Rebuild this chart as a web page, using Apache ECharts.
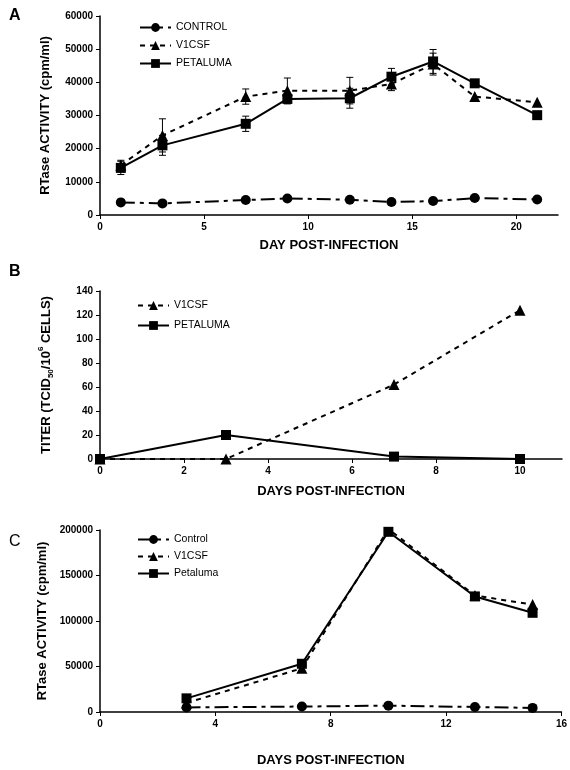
<!DOCTYPE html>
<html><head><meta charset="utf-8">
<script src="https://cdn.jsdelivr.net/npm/echarts@6/dist/echarts.min.js"></script>
<style>html,body{margin:0;padding:0;background:#fff}#c{width:570px;height:770px}</style>
</head><body><div id="c"></div>
<script>
// Panel A
const dayA = [1, 3, 7, 9, 12, 14, 16, 18, 21];
const controlA = [3800, 3500, 4500, 5000, 4600, 3900, 4200, 5100, 4700];
const v1csfA = [15000, 24000, 35700, 37500, 37500, 39500, 45500, 35700, 34000];
const petalumaA = [14200, 21000, 27500, 35000, 35200, 41700, 46300, 39700, 30100];
const v1csfErrA = [1500, 5000, 2300, 3800, 4000, 2000, 3300, 0, 0];
const petalumaErrA = [2000, 3000, 2300, 1500, 3000, 2500, 3600, 0, 0];
const xTicksA = [0, 5, 10, 15, 20];
// Panel B
const dayB = [0, 3, 7, 10];
const v1csfB = [0, 0, 62, 124];
const petalumaB = [0, 20, 2, 0];
const xTicksB = [0, 2, 4, 6, 8, 10];
// Panel C
const dayC = [3, 7, 10, 13, 15];
const controlC = [5000, 6000, 7000, 5500, 4500];
const v1csfC = [10000, 48000, 201000, 128000, 118000];
const petalumaC = [15000, 53000, 198000, 127000, 109000];
const xTicksC = [0, 4, 8, 12, 16];

const FONT = '"Liberation Sans", Arial, sans-serif';
const pairs = (xs, ys) => xs.map((x, i) => [x, ys[i]]);
const errData = (xs, ys, es) => xs.map((x, i) => [x, ys[i] - es[i], ys[i] + es[i], es[i]]).filter(d => d[3] > 0);

function errRender(params, api) {
  const x = api.value(0), lo = api.value(1), hi = api.value(2);
  const p1 = api.coord([x, lo]), p2 = api.coord([x, hi]);
  const w = 3.5;
  const st = { stroke: '#000', lineWidth: 1 };
  return { type: 'group', children: [
    { type: 'line', shape: { x1: p1[0], y1: p1[1], x2: p2[0], y2: p2[1] }, style: st },
    { type: 'line', shape: { x1: p1[0] - w, y1: p1[1], x2: p1[0] + w, y2: p1[1] }, style: st },
    { type: 'line', shape: { x1: p2[0] - w, y1: p2[1], x2: p2[0] + w, y2: p2[1] }, style: st }
  ]};
}

const axisCommon = {
  type: 'value',
  axisLine: { lineStyle: { color: '#000', width: 1.5 } },
  axisTick: { inside: false, length: 4, lineStyle: { color: '#000', width: 1 } },
  splitLine: { show: false },
  axisLabel: { color: '#000', fontSize: 10, fontWeight: 'bold', fontFamily: FONT, formatter: v => String(v) }
};
const nameStyle = { color: '#000', fontSize: 13, fontWeight: 'bold', fontFamily: FONT };

function xAx(idx, max, ticks, name, gap) {
  return Object.assign({}, axisCommon, {
    gridIndex: idx, min: 0, max: max,
    name: name, nameLocation: 'middle', nameGap: gap, nameTextStyle: nameStyle,
    axisLabel: Object.assign({}, axisCommon.axisLabel, { margin: 7, customValues: ticks }),
    axisTick: Object.assign({}, axisCommon.axisTick, { customValues: ticks })
  });
}
function yAx(idx, max, interval, name, gap, extraName) {
  return Object.assign({}, axisCommon, {
    gridIndex: idx, min: 0, max: max, interval: interval,
    name: name, nameLocation: 'middle', nameGap: gap, nameRotate: 90,
    nameTextStyle: Object.assign({}, nameStyle, extraName || {}),
    axisLabel: Object.assign({}, axisCommon.axisLabel, { margin: 7 })
  });
}

const ctrlLine = { color: '#000', width: 2, type: [14, 5, 4, 5] };
const v1Line = { color: '#000', width: 2, type: [5, 5] };
const petLine = { color: '#000', width: 2, type: 'solid' };

function lineSeries(name, data, gi, symbol, size, ls) {
  return { type: 'line', name: name, xAxisIndex: gi, yAxisIndex: gi, data: data,
    symbol: symbol, symbolSize: size, showSymbol: true,
    itemStyle: { color: '#000', borderWidth: 0 }, lineStyle: ls, z: 3, animation: false };
}
function errSeries(data, gi) {
  return { type: 'custom', xAxisIndex: gi, yAxisIndex: gi, data: data, renderItem: errRender,
    encode: { x: 0, y: [1, 2] }, z: 2, animation: false, silent: true };
}
function legend(names, left, top, gap) {
  return { data: names, orient: 'vertical', left: left, top: top, itemWidth: 31, itemHeight: 11,
    itemGap: gap, textStyle: { color: '#000', fontSize: 10.5, fontFamily: FONT, padding: [0, 0, 0, 0] },
    selectedMode: false };
}

const chart = echarts.init(document.getElementById('c'), null, { renderer: 'canvas' });
chart.setOption({
  animation: false,
  backgroundColor: '#fff',
  textStyle: { fontFamily: FONT },
  title: [
    { text: 'A', left: 4, top: 3, textStyle: { fontSize: 16, fontWeight: 'bold', color: '#000', fontFamily: FONT } },
    { text: 'B', left: 4, top: 259, textStyle: { fontSize: 16, fontWeight: 'bold', color: '#000', fontFamily: FONT } },
    { text: 'C', left: 4, top: 529, textStyle: { fontSize: 16, fontWeight: 'normal', color: '#000', fontFamily: FONT } }
  ],
  grid: [
    { left: 100, right: 12, top: 16, height: 199 },
    { left: 100, right: 8, top: 291, height: 168 },
    { left: 100, right: 8, top: 530, height: 182 }
  ],
  legend: [
    legend(['CONTROL', 'V1CSF', 'PETALUMA'], 134, 17, 7),
    legend(['V1CSF', 'PETALUMA'], 132, 295, 9),
    legend(['Control', 'V1CSF', 'Petaluma'], 132, 529, 6)
  ],
  xAxis: [
    xAx(0, 22, xTicksA, 'DAY POST-INFECTION', 24),
    xAx(1, 11, xTicksB, 'DAYS POST-INFECTION', 26),
    xAx(2, 16, xTicksC, 'DAYS POST-INFECTION', 42)
  ],
  yAxis: [
    yAx(0, 60000, 10000, 'RTase ACTIVITY (cpm/ml)', 48),
    yAx(1, 140, 20, '{b|TITER (TCID}{s|50}{b|/10}{p|6}{b| CELLS)}', 45, {
      rich: {
        b: { fontSize: 13, fontWeight: 'bold', color: '#000', fontFamily: FONT, lineHeight: 18 },
        s: { fontSize: 8, fontWeight: 'bold', color: '#000', fontFamily: FONT, lineHeight: 9, verticalAlign: 'bottom' },
        p: { fontSize: 8, fontWeight: 'bold', color: '#000', fontFamily: FONT, lineHeight: 9, verticalAlign: 'top' }
      }
    }),
    yAx(2, 200000, 50000, 'RTase ACTIVITY (cpm/ml)', 47)
  ],
  series: [
    errSeries(errData(dayA, v1csfA, v1csfErrA), 0),
    errSeries(errData(dayA, petalumaA, petalumaErrA), 0),
    lineSeries('CONTROL', pairs(dayA, controlA), 0, 'circle', 10, ctrlLine),
    lineSeries('V1CSF', pairs(dayA, v1csfA), 0, 'triangle', 11, v1Line),
    lineSeries('PETALUMA', pairs(dayA, petalumaA), 0, 'rect', 10, petLine),
    lineSeries('V1CSF', pairs(dayB, v1csfB), 1, 'triangle', 11, v1Line),
    lineSeries('PETALUMA', pairs(dayB, petalumaB), 1, 'rect', 10, petLine),
    lineSeries('Control', pairs(dayC, controlC), 2, 'circle', 10, ctrlLine),
    lineSeries('V1CSF', pairs(dayC, v1csfC), 2, 'triangle', 11, v1Line),
    lineSeries('Petaluma', pairs(dayC, petalumaC), 2, 'rect', 10, petLine)
  ]
});
</script>
</body></html>
